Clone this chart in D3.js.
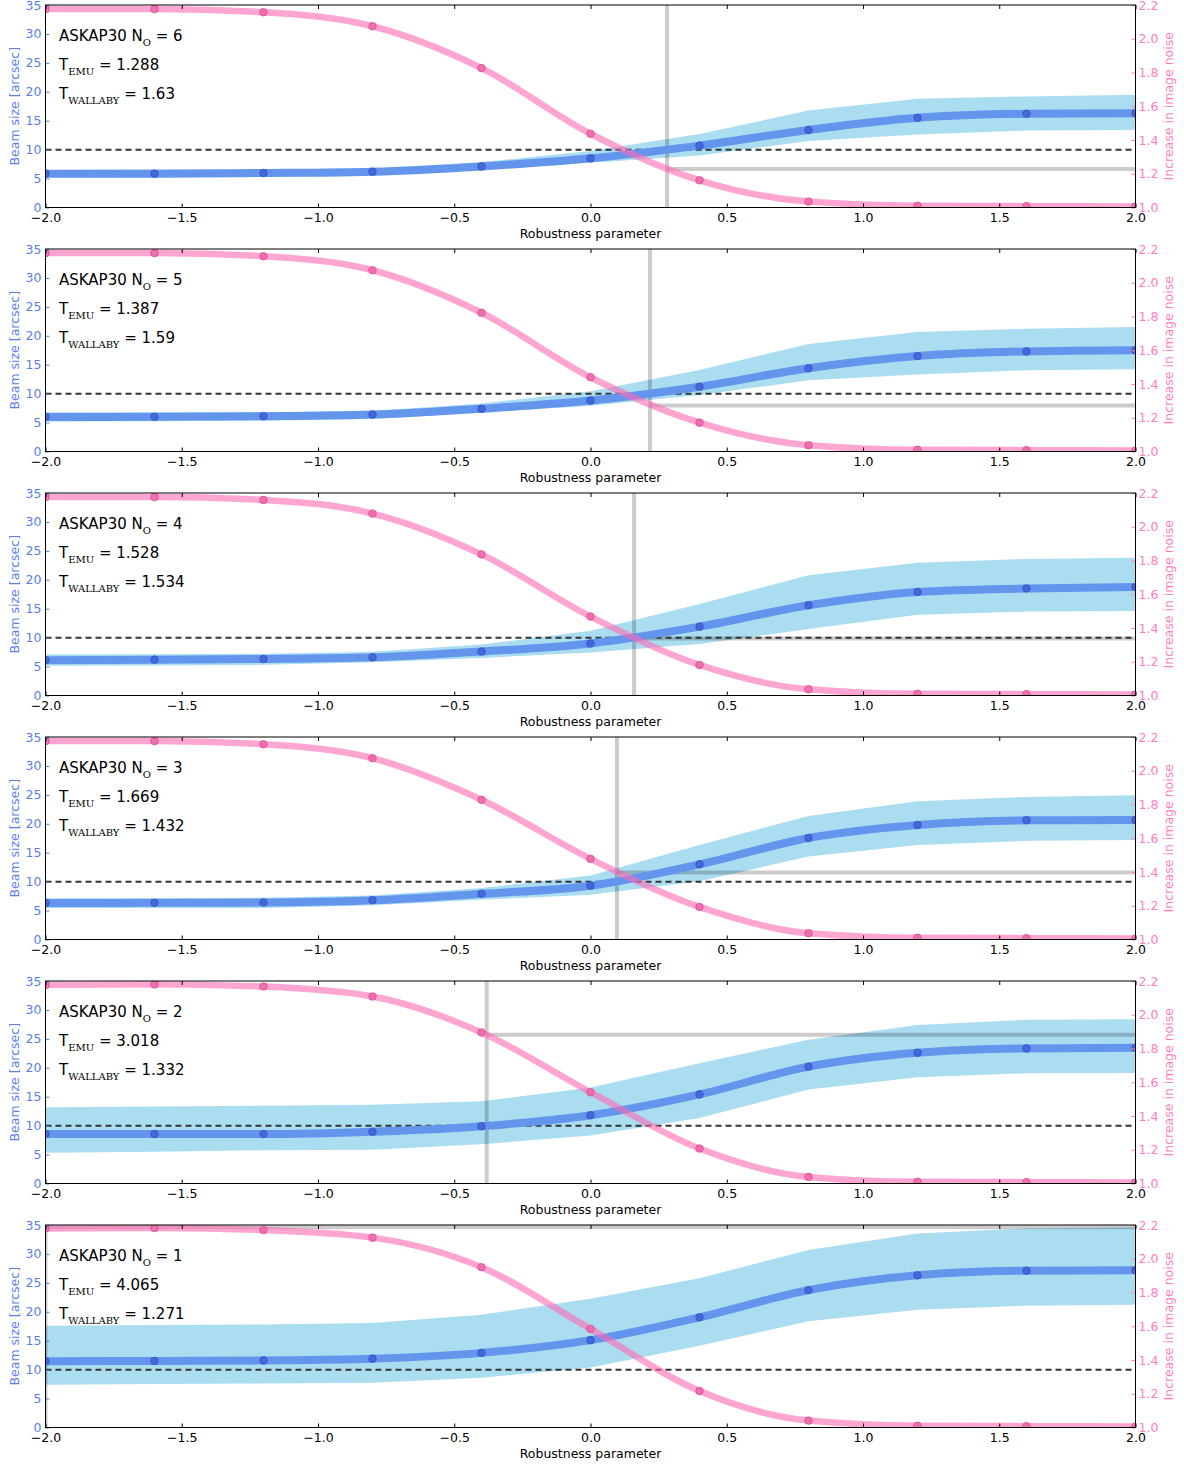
<!DOCTYPE html>
<html>
<head>
<meta charset="utf-8">
<script src="https://cdn.jsdelivr.net/npm/d3@7"></script>
<style>
body { margin: 0; background: #fff; }
text { font-family: "DejaVu Sans", sans-serif; }
</style>
</head>
<body>
<svg width="1184" height="1465"></svg>
<script>
// robustness values sampled in every panel
var robust = [-2.0, -1.6, -1.2, -0.8, -0.4, 0.0, 0.4, 0.8, 1.2, 1.6, 2.0];

var nOuter = [6, 5, 4, 3, 2, 1];
var tEmu = ["1.288", "1.387", "1.528", "1.669", "3.018", "4.065"];
var tWallaby = ["1.63", "1.59", "1.534", "1.432", "1.332", "1.271"];

// beam size [arcsec], mean and spread
var beamMean = [
  [5.85, 5.85, 5.97, 6.2, 7.1, 8.5, 10.7, 13.4, 15.5, 16.2, 16.3],
  [5.97, 6.0, 6.1, 6.4, 7.4, 8.8, 11.2, 14.4, 16.5, 17.3, 17.5],
  [6.1, 6.2, 6.3, 6.6, 7.6, 9.0, 11.9, 15.6, 17.9, 18.5, 18.75],
  [6.3, 6.35, 6.4, 6.8, 7.9, 9.3, 13.0, 17.55, 19.8, 20.6, 20.65],
  [8.55, 8.55, 8.55, 8.95, 9.9, 11.8, 15.4, 20.2, 22.6, 23.35, 23.45],
  [11.45, 11.5, 11.6, 11.9, 12.9, 15.1, 19.05, 23.75, 26.3, 27.1, 27.2]
];
var beamHi = [
  [6.5, 6.55, 6.6, 6.7, 7.85, 9.75, 12.7, 16.75, 18.8, 19.2, 19.5],
  [6.8, 6.8, 6.8, 7.0, 8.3, 10.4, 14.1, 18.6, 20.65, 21.2, 21.5],
  [7.15, 7.15, 7.2, 7.55, 8.8, 11.2, 15.8, 20.8, 22.95, 23.6, 23.8],
  [7.15, 7.15, 7.2, 7.6, 8.9, 11.05, 16.35, 21.35, 23.9, 24.65, 24.95],
  [13.2, 13.3, 13.45, 13.6, 14.2, 16.6, 20.8, 24.85, 27.4, 28.3, 28.4],
  [17.6, 17.7, 17.8, 18.05, 19.5, 22.25, 25.8, 30.7, 33.55, 34.4, 34.6]
];
var beamLo = [
  [5.2, 5.25, 5.3, 5.45, 6.5, 7.75, 9.0, 11.5, 12.6, 13.3, 13.4],
  [5.2, 5.25, 5.3, 5.6, 6.7, 7.9, 9.75, 12.3, 13.3, 14.05, 14.2],
  [5.15, 5.2, 5.3, 5.75, 6.5, 7.45, 8.9, 11.5, 13.95, 14.5, 14.6],
  [5.45, 5.45, 5.45, 5.9, 6.85, 7.75, 10.05, 14.35, 16.35, 17.05, 17.2],
  [5.3, 5.5, 5.75, 5.85, 6.8, 8.3, 11.3, 16.25, 18.35, 19.05, 19.1],
  [7.4, 7.5, 7.6, 7.75, 8.6, 10.35, 14.15, 18.35, 20.35, 21.05, 21.2]
];

// increase in image noise
var noise = [
  [2.176, 2.176, 2.157, 2.074, 1.826, 1.437, 1.161, 1.035, 1.01, 1.008, 1.006],
  [2.176, 2.176, 2.157, 2.074, 1.822, 1.44, 1.171, 1.037, 1.01, 1.008, 1.006],
  [2.176, 2.176, 2.159, 2.078, 1.836, 1.468, 1.181, 1.037, 1.01, 1.008, 1.006],
  [2.176, 2.176, 2.157, 2.074, 1.828, 1.478, 1.193, 1.037, 1.01, 1.008, 1.006],
  [2.176, 2.18, 2.167, 2.108, 1.895, 1.541, 1.207, 1.039, 1.01, 1.008, 1.006],
  [2.18, 2.182, 2.17, 2.125, 1.95, 1.584, 1.216, 1.041, 1.01, 1.008, 1.006]
];

// where the beam reaches 10 arcsec, and the noise there
var robustAt10 = [0.281, 0.218, 0.160, 0.097, -0.381, -2.0];
var noiseAt10 = [1.228, 1.273, 1.338, 1.397, 1.881, 2.186];

var beamTicks = [0, 5, 10, 15, 20, 25, 30, 35];
var noiseTicks = [1.0, 1.2, 1.4, 1.6, 1.8, 2.0, 2.2];
var robustTicks = [-2.0, -1.5, -1.0, -0.5, 0.0, 0.5, 1.0, 1.5, 2.0];

var svg = d3.select("svg");
var left = 45.5, right = 1135.5, h = 202.5, step = 244;
var blueText = "#5a7ee9", pinkText = "#ff7dbf";

var x = d3.scaleLinear().domain([-2, 2]).range([left, right]);

nOuter.forEach(function(n, i) {
  var top = 5 + step * i;
  var yL = d3.scaleLinear().domain([0, 35]).range([top + h, top]);
  var yR = d3.scaleLinear().domain([1, 2.2]).range([top + h, top]);
  var g = svg.append("g");

  g.append("clipPath").attr("id", "clip" + i)
    .append("rect").attr("x", left).attr("y", top).attr("width", right - left).attr("height", h);
  var plot = g.append("g").attr("clip-path", "url(#clip" + i + ")");

  var rows = robust.map(function(r, j) {
    return {r: r, m: beamMean[i][j], lo: beamLo[i][j], hi: beamHi[i][j], n: noise[i][j]};
  });

  // spread band
  plot.append("path").datum(rows)
    .attr("fill", "skyblue").attr("fill-opacity", 0.7)
    .attr("d", d3.area()
      .x(function(d) { return x(d.r); })
      .y0(function(d) { return yL(d.lo); })
      .y1(function(d) { return yL(d.hi); }));

  // 10 arcsec crossing
  plot.append("line")
    .attr("x1", x(robustAt10[i])).attr("x2", x(robustAt10[i]))
    .attr("y1", top).attr("y2", top + h)
    .attr("stroke", "#000").attr("stroke-opacity", 0.2).attr("stroke-width", 4);
  plot.append("line")
    .attr("x1", x(robustAt10[i])).attr("x2", right)
    .attr("y1", yR(noiseAt10[i])).attr("y2", yR(noiseAt10[i]))
    .attr("stroke", "#000").attr("stroke-opacity", 0.2).attr("stroke-width", 4);

  plot.append("line")
    .attr("x1", left).attr("x2", right)
    .attr("y1", yL(10)).attr("y2", yL(10))
    .attr("stroke", "#333").attr("stroke-width", 2).attr("stroke-dasharray", "6,4");

  // beam size
  plot.append("path").datum(rows)
    .attr("fill", "none").attr("stroke", "#6495ed").attr("stroke-width", 8)
    .attr("d", d3.line().curve(d3.curveMonotoneX)
      .x(function(d) { return x(d.r); })
      .y(function(d) { return yL(d.m); }));
  plot.selectAll(".bp").data(rows).enter().append("circle")
    .attr("cx", function(d) { return x(d.r); })
    .attr("cy", function(d) { return yL(d.m); })
    .attr("r", 3.8)
    .attr("fill", "#4468dc").attr("stroke", "#2f4fbf").attr("stroke-width", 0.7);

  // noise
  plot.append("path").datum(rows)
    .attr("fill", "none").attr("stroke", "hotpink").attr("stroke-opacity", 0.6).attr("stroke-width", 6.5)
    .attr("d", d3.line().curve(d3.curveMonotoneX)
      .x(function(d) { return x(d.r); })
      .y(function(d) { return yR(d.n); }));
  plot.selectAll(".np").data(rows).enter().append("circle")
    .attr("cx", function(d) { return x(d.r); })
    .attr("cy", function(d) { return yR(d.n); })
    .attr("r", 3.8)
    .attr("fill", "#ef6fae").attr("stroke", "#d2488c").attr("stroke-width", 0.7);

  // axes
  var ax = g.append("g").attr("transform", "translate(0," + (top + h) + ")")
    .call(d3.axisBottom(x).tickValues(robustTicks).tickFormat(d3.format(".1f")).tickSize(-4).tickPadding(6));
  g.append("g").attr("transform", "translate(0," + top + ")")
    .call(d3.axisTop(x).tickValues(robustTicks).tickFormat("").tickSize(-4));
  var al = g.append("g").attr("transform", "translate(" + left + ",0)")
    .call(d3.axisLeft(yL).tickValues(beamTicks).tickSize(-4).tickPadding(4));
  var ar = g.append("g").attr("transform", "translate(" + right + ",0)")
    .call(d3.axisRight(yR).tickValues(noiseTicks).tickFormat(d3.format(".1f")).tickSize(-4).tickPadding(3));
  g.selectAll(".domain").remove();
  g.selectAll(".tick text").attr("font-size", 12.5).attr("font-family", "DejaVu Sans");
  ax.selectAll(".tick text").attr("fill", "#000");
  al.selectAll(".tick text").attr("fill", blueText);
  al.selectAll(".tick line").attr("stroke", blueText);
  ar.selectAll(".tick text").attr("fill", pinkText);
  ar.selectAll(".tick line").attr("stroke", pinkText);

  g.append("rect").attr("x", left).attr("y", top).attr("width", right - left).attr("height", h)
    .attr("fill", "none").attr("stroke", "#000").attr("stroke-width", 1);

  g.append("text").attr("x", (left + right) / 2).attr("y", top + h + 30)
    .attr("text-anchor", "middle").attr("font-size", 12.5).text("Robustness parameter");
  g.append("text").attr("transform", "translate(19," + (top + h / 2) + ") rotate(-90)")
    .attr("text-anchor", "middle").attr("font-size", 12.5).attr("fill", blueText).text("Beam size [arcsec]");
  g.append("text").attr("transform", "translate(1173," + (top + h / 2) + ") rotate(-90)")
    .attr("text-anchor", "middle").attr("font-size", 12.5).attr("fill", pinkText).text("Increase in image noise");

  // annotation
  var lines = [
    ["ASKAP30 N", "O", " = " + n],
    ["T", "EMU", " = " + tEmu[i]],
    ["T", "WALLABY", " = " + tWallaby[i]]
  ];
  lines.forEach(function(l, k) {
    var t = g.append("text").attr("x", 59).attr("y", top + 36 + 29.2 * k).attr("font-size", 15).attr("fill", "#000");
    t.append("tspan").text(l[0]);
    t.append("tspan").attr("dy", 4.5).attr("font-family", "DejaVu Serif").attr("font-size", 10).text(l[1]);
    t.append("tspan").attr("dy", -4.5).text(l[2]);
  });
});
</script>
</body>
</html>
